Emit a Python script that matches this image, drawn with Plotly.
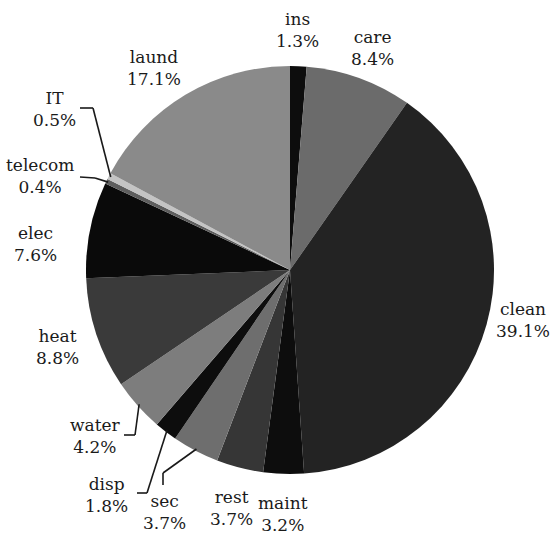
import math
import plotly.graph_objects as go

# Cost breakdown by service category (percent), clockwise from 12 o'clock
categories = ["ins", "care", "clean", "maint", "rest", "sec", "disp",
              "water", "heat", "elec", "telecom", "IT", "laund"]
shares = [1.3, 8.4, 39.1, 3.2, 3.7, 3.7, 1.8, 4.2, 8.8, 7.6, 0.4, 0.5, 17.1]

slice_colors = ["#0d0d0d", "#6b6b6b", "#232323", "#0d0d0d", "#363636",
                "#6e6e6e", "#0d0d0d", "#7d7d7d", "#3a3a3a", "#0a0a0a",
                "#5e5e5e", "#c4c4c4", "#8a8a8a"]

W, H = 553, 538
CX, CY, R = 290, 270, 204  # pie centre / radius in pixels
FONT = "'DejaVu Serif', serif"

# label block centres (pixels)
label_pos = {
    "ins": (297, 30), "care": (372, 48), "clean": (523, 320),
    "maint": (283, 514), "rest": (231, 508), "sec": (164, 512),
    "disp": (106, 495), "water": (95, 436), "heat": (57, 347),
    "elec": (35, 244), "telecom": (40, 176), "IT": (54, 109),
    "laund": (154, 68),
}
# leader lines: start point and elbow (pixels); end is on the slice rim
leaders = {
    "IT": [(80, 108), (93, 108)],
    "telecom": [(80, 177), (95, 178)],
    "water": [(124, 435), (135, 435)],
    "disp": [(137, 493), (147, 493)],
    "sec": [(163, 485), (163, 473)],
}

fig = go.Figure(go.Pie(
    labels=categories, values=shares, sort=False, direction="clockwise",
    rotation=0, textinfo="none", hoverinfo="label+percent",
    marker=dict(colors=slice_colors, line=dict(width=0)),
    domain=dict(x=[(CX - R) / W, (CX + R) / W],
                y=[(H - CY - R) / H, (H - CY + R) / H]),
    showlegend=False,
))

def px_to_paper(x, y):
    return x / W, 1 - y / H

total = sum(shares)
cum = 0.0
annotations, shapes = [], []
for name, v in zip(categories, shares):
    mid = (cum + v / 2) / total * 2 * math.pi
    cum += v
    lx, ly = label_pos[name]
    ax, ay = px_to_paper(lx, ly)
    annotations.append(dict(
        x=ax, y=ay, xref="paper", yref="paper", xanchor="center",
        yanchor="middle", showarrow=False,
        text=f"{name}<br>{v:.1f}%",
        font=dict(family=FONT, size=17, color="#1a1a1a"),
    ))
    if name in leaders:
        rim = (CX + R * 0.99 * math.sin(mid), CY - R * 0.99 * math.cos(mid))
        pts = leaders[name] + [rim]
        for (x0, y0), (x1, y1) in zip(pts[:-1], pts[1:]):
            p0 = px_to_paper(x0, y0)
            p1 = px_to_paper(x1, y1)
            shapes.append(dict(type="line", xref="paper", yref="paper",
                               x0=p0[0], y0=p0[1], x1=p1[0], y1=p1[1],
                               line=dict(color="#1a1a1a", width=1.6)))

fig.update_layout(
    width=W, height=H, margin=dict(l=0, r=0, t=0, b=0),
    paper_bgcolor="white", plot_bgcolor="white",
    font=dict(family=FONT),
    annotations=annotations, shapes=shapes,
)

fig.write_html("out.html")
